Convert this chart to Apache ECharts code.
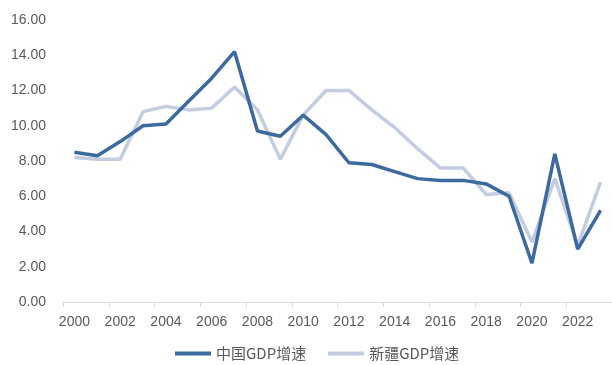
<!DOCTYPE html>
<html>
<head>
<meta charset="utf-8">
<script src="https://cdn.jsdelivr.net/npm/echarts@6/dist/echarts.min.js"></script>
<style>
  html, body { margin: 0; padding: 0; background: #ffffff; }
  #chart { width: 612px; height: 365px; }
</style>
</head>
<body>
<div id="chart"></div>
<script>
// GDP growth rate (%), 2000-2023
const years = ['2000','2001','2002','2003','2004','2005','2006','2007','2008','2009','2010','2011',
               '2012','2013','2014','2015','2016','2017','2018','2019','2020','2021','2022','2023'];
const chinaGrowth = [8.5, 8.3, 9.1, 10.0, 10.1, 11.4, 12.7, 14.2, 9.7, 9.4, 10.6, 9.5,
                     7.9, 7.8, 7.4, 7.0, 6.9, 6.9, 6.7, 6.0, 2.2, 8.4, 3.0, 5.2];
const xinjiangGrowth = [8.2, 8.1, 8.1, 10.8, 11.1, 10.9, 11.0, 12.2, 10.9, 8.1, 10.6, 12.0,
                        12.0, 10.9, 9.9, 8.7, 7.6, 7.6, 6.1, 6.2, 3.4, 7.0, 3.2, 6.8];
const seriesNames = ['中国GDP增速', '新疆GDP增速'];
const yTicks = { min: 0, max: 16, interval: 2 };

const chart = echarts.init(document.getElementById('chart'), null, { renderer: 'canvas' });

chart.setOption({
  animation: false,
  backgroundColor: '#ffffff',
  grid: { left: 63, top: 20, width: 550, bottom: 63, containLabel: false },
  legend: {
    data: seriesNames,
    left: 170,
    bottom: -1,
    icon: 'rect',
    itemWidth: 36,
    itemHeight: 4,
    itemGap: 22,
    textStyle: {
      fontFamily: '"Noto Sans CJK SC", sans-serif',
      fontSize: 15,
      color: '#595959',
      padding: [0, 0, 0, 0]
    }
  },
  xAxis: {
    type: 'category',
    data: years,
    boundaryGap: true,
    axisLine: { lineStyle: { color: '#d9d9d9', width: 1 } },
    axisTick: { show: true, interval: 1, length: 5, lineStyle: { color: '#d9d9d9' } },
    axisLabel: {
      interval: 1,
      color: '#595959',
      fontFamily: '"Liberation Sans", "DejaVu Sans", sans-serif',
      fontSize: 14,
      margin: 13
    }
  },
  yAxis: {
    type: 'value',
    min: yTicks.min,
    max: yTicks.max,
    interval: yTicks.interval,
    axisLine: { show: false },
    axisTick: { show: false },
    splitLine: { show: false },
    axisLabel: {
      formatter: v => v.toFixed(2),
      color: '#595959',
      fontFamily: '"Liberation Sans", "DejaVu Sans", sans-serif',
      fontSize: 14,
      margin: 17
    }
  },
  series: [
    {
      name: seriesNames[0],
      type: 'line',
      data: chinaGrowth,
      symbol: 'none',
      lineStyle: { color: '#3d6a9e', width: 3.5 },
      itemStyle: { color: '#3d6a9e' },
      z: 3
    },
    {
      name: seriesNames[1],
      type: 'line',
      data: xinjiangGrowth,
      symbol: 'none',
      lineStyle: { color: '#c3cce0', width: 3.5 },
      itemStyle: { color: '#c3cce0' },
      z: 2
    }
  ]
});
</script>
</body>
</html>
